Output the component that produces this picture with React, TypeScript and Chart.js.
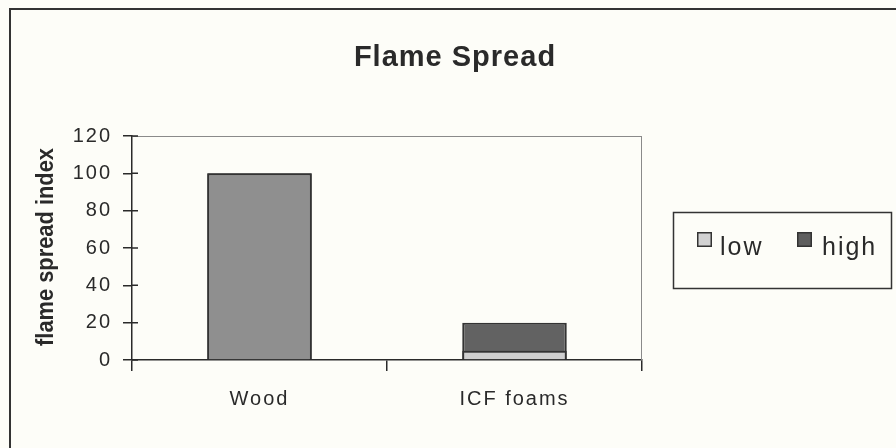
import React, { useEffect, useRef } from "react";
import { Chart, registerables } from "chart.js";

Chart.register(...registerables);

const chartTitle = "Flame Spread";
const yAxisTitle = "flame spread index";
const categories = ["Wood", "ICF foams"];
const seriesNames = ["low", "high"];
const lowValues = [100, 5];
const highValues = [100, 20];
const yTickValues = [0, 20, 40, 60, 80, 100, 120];

const lowColors = ["#8f8f8f", "#cfcfcf"];
const highColors = ["#8f8f8f", "#626262"];
const legendColors = ["#d2d2d2", "#5e5e5e"];
const INK = "#2a2a2a";
const FONT = "'Liberation Sans', Arial, sans-serif";

function drawText(
  ctx: CanvasRenderingContext2D,
  text: string,
  x: number,
  y: number,
  font: string,
  spacing: number,
  sx: number,
  align: CanvasTextAlign,
  rotate = 0
) {
  ctx.save();
  ctx.translate(x, y);
  if (rotate) ctx.rotate(rotate);
  ctx.scale(sx, 1);
  ctx.font = font;
  (ctx as any).letterSpacing = `${spacing}px`;
  ctx.textAlign = align;
  ctx.textBaseline = "alphabetic";
  ctx.fillText(text, align === "center" ? spacing / 2 : 0, 0);
  ctx.restore();
}

export default function App() {
  const ref = useRef<HTMLCanvasElement | null>(null);

  useEffect(() => {
    document.body.style.margin = "0";
    const canvas = ref.current;
    if (!canvas) return;

    const deco = {
      id: "deco",
      beforeDraw(chart: any) {
        const ctx = chart.ctx;
        ctx.save();
        ctx.fillStyle = "#fdfdf8";
        ctx.fillRect(0, 0, chart.width, chart.height);
        ctx.restore();
        ctx.letterSpacing = "2px";
      },
      afterDraw(chart: any) {
        const ctx = chart.ctx;
        const area = chart.chartArea;
        const yScale = chart.scales.y;
        ctx.save();
        // plot area frame (top, right)
        ctx.strokeStyle = "#8a8a8a";
        ctx.lineWidth = 1;
        ctx.beginPath();
        ctx.moveTo(area.left, Math.round(area.top) + 0.5);
        ctx.lineTo(area.right, Math.round(area.top) + 0.5);
        ctx.moveTo(Math.round(area.right) - 0.5, area.top);
        ctx.lineTo(Math.round(area.right) - 0.5, area.bottom);
        ctx.stroke();
        // inner tick marks on y axis
        ctx.strokeStyle = INK;
        ctx.lineWidth = 1.5;
        ctx.beginPath();
        yTickValues.forEach((v) => {
          const y = yScale.getPixelForValue(v);
          ctx.moveTo(area.left, y);
          ctx.lineTo(area.left + 6, y);
        });
        ctx.stroke();

        // outer frame (extends beyond the picture on right/bottom)
        ctx.strokeStyle = "#333";
        ctx.lineWidth = 2;
        ctx.beginPath();
        ctx.moveTo(10, chart.height + 5);
        ctx.lineTo(10, 9);
        ctx.lineTo(chart.width + 5, 9);
        ctx.stroke();

        ctx.fillStyle = INK;
        // title
        drawText(ctx, chartTitle, 454.5, 66, `bold 29px ${FONT}`, 1, 1, "center");
        // y axis title
        drawText(ctx, yAxisTitle, 53, 247, `bold 24px ${FONT}`, 0, 0.91, "center", -Math.PI / 2);

        // legend
        ctx.strokeStyle = "#333";
        ctx.lineWidth = 1.5;
        ctx.strokeRect(673.5, 212.5, 218, 76);
        const squares = [697, 797];
        const texts = [720, 822];
        seriesNames.forEach((name, i) => {
          ctx.fillStyle = legendColors[i];
          ctx.fillRect(squares[i], 232, 15, 15);
          ctx.lineWidth = 1.5;
          ctx.strokeStyle = "#333";
          ctx.strokeRect(squares[i] + 0.75, 232.75, 13.5, 13.5);
          ctx.fillStyle = INK;
          drawText(ctx, name, texts[i], 255, `25px ${FONT}`, 2, 1, "left");
        });
        ctx.restore();
      },
    };

    const chart = new Chart(canvas, {
      type: "bar",
      data: {
        labels: categories,
        datasets: [
          {
            label: seriesNames[0],
            data: lowValues,
            backgroundColor: lowColors,
            borderColor: "#333",
            borderWidth: 2,
            grouped: false,
            categoryPercentage: 1,
            barPercentage: 0.41,
          } as any,
          {
            label: seriesNames[1],
            data: highValues,
            backgroundColor: highColors,
            borderColor: "#333",
            borderWidth: 2,
            grouped: false,
            categoryPercentage: 1,
            barPercentage: 0.41,
          } as any,
        ],
      },
      options: {
        responsive: false,
        animation: false,
        devicePixelRatio: 1,
        layout: { padding: { left: 30, top: 136, right: 254, bottom: 0 } },
        plugins: {
          legend: { display: false },
          title: { display: false },
          tooltip: { enabled: false },
        },
        scales: {
          x: {
            afterFit(scale: any) {
              scale.height = 88;
            },
            grid: {
              offset: true,
              drawOnChartArea: false,
              drawTicks: true,
              tickLength: 11,
              color: INK,
              lineWidth: 1.5,
            },
            border: { display: true, color: INK, width: 1.5 },
            ticks: {
              color: INK,
              font: { family: FONT, size: 20 },
              padding: 16,
              maxRotation: 0,
            },
          },
          y: {
            min: 0,
            max: 120,
            afterFit(scale: any) {
              scale.width = 102;
            },
            afterBuildTicks(scale: any) {
              scale.ticks = yTickValues.map((v) => ({ value: v }));
            },
            grid: {
              drawOnChartArea: false,
              drawTicks: true,
              tickLength: 9,
              color: INK,
              lineWidth: 1.5,
            },
            border: { display: true, color: INK, width: 1.5 },
            ticks: {
              color: INK,
              font: { family: FONT, size: 20 },
              padding: 11,
            },
          },
        },
      },
      plugins: [deco],
    } as any);

    return () => chart.destroy();
  }, []);

  return (
    <div style={{ position: "absolute", left: 0, top: 0, width: 896, height: 448 }}>
      <canvas ref={ref} width={896} height={448} style={{ display: "block", width: 896, height: 448 }} />
    </div>
  );
}
